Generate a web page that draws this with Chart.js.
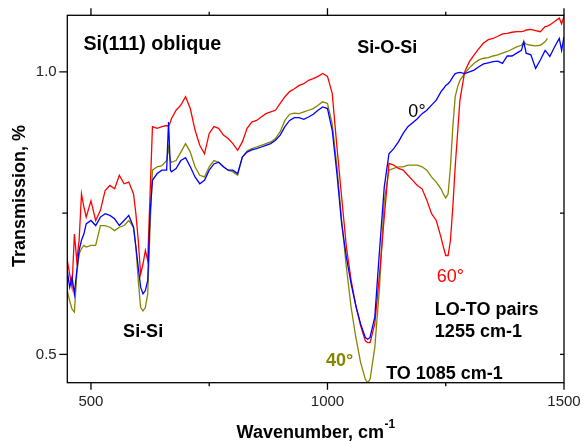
<!DOCTYPE html>
<html><head><meta charset="utf-8">
<script src="https://cdn.jsdelivr.net/npm/chart.js@4"></script>
<style>html,body{margin:0;padding:0;background:#fff}canvas{display:block}</style>
</head><body>
<canvas id="c" width="583" height="441" style="width:583px;height:441px"></canvas>
<script>
// ---- data (wavenumber, cm-1) ----
const wavenumbers = [
 450,455,460,465,470,475,480,485,490,
 500,510,520,530,540,550,560,570,580,590,
 595,600,605,610,615,620,625,630,
 640,650,660,664,668,670,
 680,690,700,710,720,730,740,750,760,770,780,790,800,810,820,830,840,850,860,870,880,890,900,910,920,930,940,950,960,970,980,990,1000,1010,1020,1030,1040,1050,1060,1070,1080,
 1085,1090,
 1100,1110,1120,1130,1140,1150,1160,1170,1180,1190,1200,1210,1220,1230,1240,
 1245,1250,1255,1260,1265,1270,1275,1280,
 1290,1300,1310,1320,1330,1340,1350,1360,1370,1380,1390,1400,1410,
 1415,1420,1430,1440,1450,1460,1465,1470,1480,1490,1495,1500
];
// 0 degree (blue)
const trans0 = [
 .648,.619,.637,.607,.648,.684,.702,.713,.731,
 .737,.728,.743,.749,.746,.740,.728,.737,.746,.725,
 .690,.654,.619,.607,.613,.631,.749,.808,
 .820,.826,.826,.911,.826,.823,
 .829,.843,.848,.832,.814,.802,.808,.826,.837,.840,.832,.826,.826,.820,.849,.858,.862,.864,.867,.870,.873,.879,.888,.903,.914,.919,.919,.916,.920,.925,.932,.938,.935,.897,.820,.731,.672,.625,.586,.554,.530,
 .527,.530,
 .566,.684,.796,.855,.864,.876,.891,.903,.910,.917,.926,.932,.941,.950,.965,
 .970,.976,.979,.984,.991,.997,.998,.999,
 .997,1.000,1.003,1.009,1.014,1.016,1.018,1.019,1.015,1.028,1.028,1.033,1.038,
 1.053,1.033,1.030,1.006,1.021,1.038,1.033,1.027,1.044,1.059,1.038,1.062
];
// 40 degree (olive)
const trans40 = [
 .613,.595,.580,.575,.642,.678,.687,.693,.690,
 .693,.693,.728,.728,.725,.719,.725,.728,.737,.725,
 .690,.631,.583,.577,.583,.607,.725,.826,
 .832,.834,.843,.866,.843,.840,
 .843,.858,.873,.858,.832,.817,.814,.832,.843,.840,.832,.826,.823,.817,.849,.860,.864,.867,.870,.873,.876,.882,.894,.914,.925,.927,.926,.929,.932,.935,.941,.947,.944,.908,.832,.737,.654,.583,.530,.486,.456,
 .450,.456,
 .512,.619,.772,.826,.829,.832,.832,.835,.835,.835,.832,.826,.814,.805,.793,
 .784,.777,.784,.832,.903,.956,.973,.985,
 .997,1.007,1.015,1.021,1.024,1.025,1.028,1.030,1.033,1.036,1.040,1.044,1.047,
 1.053,1.049,1.047,1.046,1.047,1.053,1.059,null,null,null,null,null
];
// 60 degree (red)
const trans60 = [
 .666,.642,.619,.713,.666,.702,.784,.761,.743,
 .772,.737,.755,.790,.799,.793,.817,.802,.805,.784,
 .749,.702,.642,.660,.684,.666,.784,.903,
 .900,.903,.905,.903,.911,.917,
 .932,.941,.956,.935,.897,.870,.855,.891,.903,.900,.888,.882,.873,.861,.876,.900,.911,.914,.920,.926,.929,.932,.944,.956,.965,.970,.976,.979,.985,.988,.992,.997,.992,.962,.867,.778,.690,.631,.586,.551,.524,
 .521,.521,
 .554,.642,.743,.838,.835,.829,.826,.817,.808,.799,.793,.773,.749,.737,.707,
 .690,.675,.675,.702,.761,.832,.891,.950,
 1.000,1.018,1.030,1.041,1.051,1.057,1.059,1.063,1.067,1.068,1.070,1.071,1.071,
 1.072,1.074,1.075,1.073,1.071,1.080,1.081,1.083,1.089,1.095,1.085,1.098
];
const xTickValues = [500, 1000, 1500];
const xMinorTickValues = [750, 1250];
const yTickValues = [0.5, 1.0];
const yMinorTickValues = [0.75];

const FONT = "'Liberation Sans', Arial, Helvetica, sans-serif";
const OLIVE = '#858500';

const labels = [
 {text:'Si(111) oblique', x:484, y:1.039, font:'bold 19.7px', color:'#000'},
 {text:'Si-O-Si', x:1063, y:1.033, font:'bold 18px', color:'#000'},
 {text:'0°', x:1171, y:0.920, font:'18px', color:'#000'},
 {text:'60°', x:1231, y:0.628, font:'18px', color:'#ff0000'},
 {text:'40°', x:997, y:0.480, font:'bold 18px', color:OLIVE},
 {text:'LO-TO pairs', x:1227, y:0.569, font:'bold 18px', color:'#000'},
 {text:'1255 cm-1', x:1227, y:0.530, font:'bold 18px', color:'#000'},
 {text:'TO 1085 cm-1', x:1124, y:0.456, font:'bold 18px', color:'#000'},
 {text:'Si-Si', x:568, y:0.531, font:'bold 18px', color:'#000'}
];

const toPts = arr => wavenumbers.map((w,i)=>({x:w, y:arr[i]}));

const decor = {
 id:'decor',
 afterDatasetsDraw(chart){
  const {ctx, chartArea:a, scales:{x, y}} = chart;
  ctx.save();
  ctx.strokeStyle = '#000';
  ctx.lineWidth = 1.3;
  ctx.strokeRect(a.left, a.top, a.right - a.left, a.bottom - a.top);
  ctx.beginPath();
  const xt = (v, len) => { const p = x.getPixelForValue(v);
    ctx.moveTo(p, a.bottom); ctx.lineTo(p, a.bottom + len);
    ctx.moveTo(p, a.top); ctx.lineTo(p, a.top - len); };
  xTickValues.forEach(v => xt(v, 7));
  xMinorTickValues.forEach(v => xt(v, 3.5));
  const yt = (v, len) => { const p = y.getPixelForValue(v);
    ctx.moveTo(a.left, p); ctx.lineTo(a.left - len, p);
    ctx.moveTo(a.right, p); ctx.lineTo(a.right - 4, p); };
  yTickValues.forEach(v => yt(v, 8));
  yMinorTickValues.forEach(v => yt(v, 5));
  ctx.stroke();

  ctx.textBaseline = 'alphabetic';
  ctx.textAlign = 'left';
  labels.forEach(l => {
    ctx.font = l.font + ' ' + FONT;
    ctx.fillStyle = l.color;
    ctx.fillText(l.text, x.getPixelForValue(l.x), y.getPixelForValue(l.y));
  });

  // axis titles
  ctx.fillStyle = '#000';
  ctx.font = 'bold 18px ' + FONT;
  ctx.save();
  ctx.translate(25, (a.top + a.bottom) / 2 - 3);
  ctx.rotate(-Math.PI / 2);
  ctx.textAlign = 'center';
  ctx.fillText('Transmission, %', 0, 0);
  ctx.restore();

  const main = 'Wavenumber, cm';
  ctx.font = 'bold 18px ' + FONT;
  const w1 = ctx.measureText(main).width;
  ctx.font = 'bold 12px ' + FONT;
  const w2 = ctx.measureText('-1').width;
  const cx = (a.left + a.right) / 2;
  const left = cx - (w1 + w2) / 2;
  ctx.textAlign = 'left';
  ctx.font = 'bold 18px ' + FONT;
  ctx.fillText(main, left, 437.5);
  ctx.font = 'bold 12px ' + FONT;
  ctx.fillText('-1', left + w1 + 0.5, 428);
  ctx.restore();
 }
};

Chart.defaults.font.family = FONT;
Chart.defaults.color = '#222';

new Chart(document.getElementById('c'), {
 type: 'line',
 data: {
  datasets: [
   {label:'0°', data: toPts(trans0), borderColor:'#0000ff', borderWidth:1.3},
   {label:'60°', data: toPts(trans60), borderColor:'#ff0000', borderWidth:1.3},
   {label:'40°', data: toPts(trans40), borderColor:OLIVE, borderWidth:1.3}
  ]
 },
 options: {
  responsive:false, animation:false, events:[],
  layout:{padding:{top:15.3, right:19, left:0, bottom:0}},
  elements:{point:{radius:0}, line:{tension:0}},
  plugins:{legend:{display:false}, tooltip:{enabled:false}},
  scales:{
   x:{type:'linear', min:450, max:1500,
      grid:{display:false, drawTicks:false}, border:{display:false},
      afterBuildTicks: s => { s.ticks = xTickValues.map(v => ({value:v})); },
      afterFit: s => { s.height = 58.3; s.paddingLeft = 0; s.paddingRight = 0; s.paddingTop = 0; s.paddingBottom = 0; },
      ticks:{font:{size:15}, padding:10.5, maxRotation:0, color:'#222', callback: v => String(v)}},
   y:{type:'linear', min:0.45, max:1.1,
      grid:{display:false, drawTicks:false}, border:{display:false},
      afterBuildTicks: s => { s.ticks = yTickValues.map(v => ({value:v})); },
      afterFit: s => { s.width = 67.3; s.paddingLeft = 0; s.paddingRight = 0; s.paddingTop = 0; s.paddingBottom = 0; },
      ticks:{font:{size:15}, padding:10.6, color:'#222', callback: v => Number(v).toFixed(1)}}
  }
 },
 plugins:[decor]
});
</script>
</body></html>
